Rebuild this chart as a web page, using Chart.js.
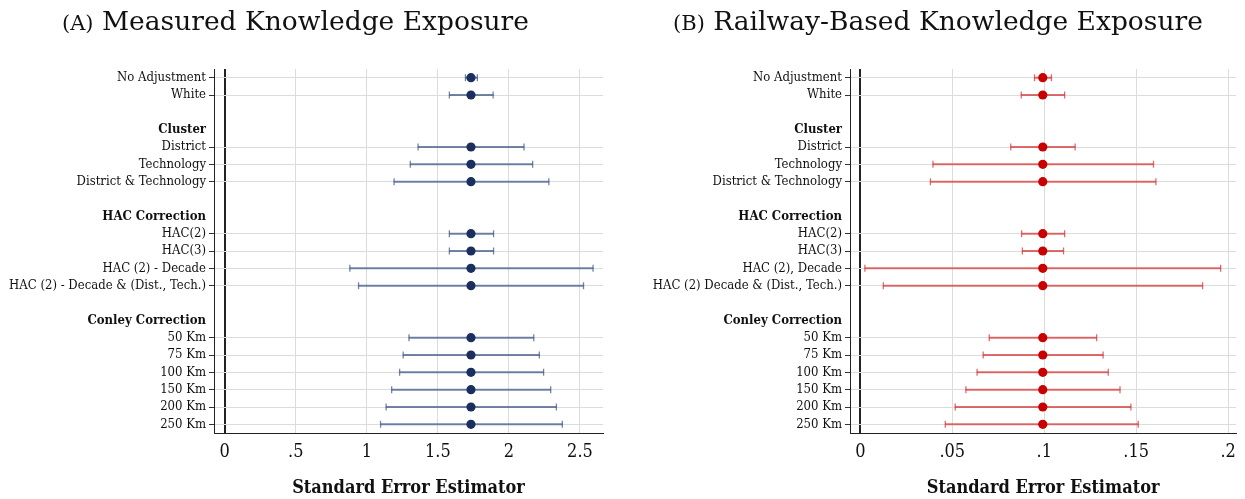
<!DOCTYPE html>
<html>
<head>
<meta charset="utf-8">
<script src="https://cdn.jsdelivr.net/npm/chart.js@4.4.1/dist/chart.umd.min.js"></script>
<style>
  body { margin: 0; background: #fff; width: 1245px; height: 499px; position: relative; overflow: hidden; }
  canvas { position: absolute; top: 0; }
  .title { position: absolute; top: 6px; font-family: "DejaVu Serif", serif; font-size: 26.5px; line-height: 30px; color: #111; white-space: nowrap; }
  .title span { font-size: 21px; }
</style>
</head>
<body>
<canvas id="chartA" width="622" height="499" style="left:0"></canvas>
<canvas id="chartB" width="623" height="499" style="left:622px"></canvas>
<div class="title" style="left:62px"><span>(A)</span> Measured Knowledge Exposure</div>
<div class="title" style="left:673px"><span>(B)</span> Railway-Based Knowledge Exposure</div>
<script>
const FONT = '"DejaVu Serif Condensed", "DejaVu Serif", serif';

// rows top to bottom ("" = spacer row)
const rowsA = ["No Adjustment", "White", "", "Cluster", "District", "Technology", "District & Technology",
  "", "HAC Correction", "HAC(2)", "HAC(3)", "HAC (2) - Decade", "HAC (2) - Decade & (Dist., Tech.)",
  "", "Conley Correction", "50 Km", "75 Km", "100 Km", "150 Km", "200 Km", "250 Km"];
const rowsB = ["No Adjustment", "White", "", "Cluster", "District", "Technology", "District & Technology",
  "", "HAC Correction", "HAC(2)", "HAC(3)", "HAC (2), Decade", "HAC (2) Decade & (Dist., Tech.)",
  "", "Conley Correction", "50 Km", "75 Km", "100 Km", "150 Km", "200 Km", "250 Km"];
const headers = ["Cluster", "HAC Correction", "Conley Correction"];

// (A) measured knowledge exposure
const estA = [1.733, 1.733, null, null, 1.733, 1.733, 1.733, null, null, 1.733, 1.733, 1.733, 1.733,
  null, null, 1.733, 1.733, 1.733, 1.733, 1.733, 1.733];
const loA = [1.694, 1.581, null, null, 1.361, 1.306, 1.192, null, null, 1.581, 1.581, 0.881, 0.942,
  null, null, 1.297, 1.256, 1.231, 1.175, 1.136, 1.097];
const hiA = [1.778, 1.889, null, null, 2.106, 2.167, 2.281, null, null, 1.892, 1.892, 2.592, 2.525,
  null, null, 2.175, 2.214, 2.244, 2.294, 2.334, 2.376];

// (B) railway-based knowledge exposure
const estB = [0.0992, 0.0992, null, null, 0.0992, 0.0992, 0.0992, null, null, 0.0992, 0.0992, 0.0992, 0.0992,
  null, null, 0.0992, 0.0992, 0.0992, 0.0992, 0.0992, 0.0992];
const loB = [0.0947, 0.0875, null, null, 0.0818, 0.0395, 0.0381, null, null, 0.0877, 0.0881, 0.0025, 0.0125,
  null, null, 0.0701, 0.0668, 0.0635, 0.0574, 0.0516, 0.0462];
const hiB = [0.1039, 0.1111, null, null, 0.1168, 0.1594, 0.1607, null, null, 0.1111, 0.1105, 0.1959, 0.1861,
  null, null, 0.1285, 0.132, 0.1348, 0.1412, 0.1471, 0.1511];

const xTicksA = [0, 0.5, 1, 1.5, 2, 2.5];
const xTicksB = [0, 0.05, 0.1, 0.15, 0.2];

function makeChart(id, rows, est, lo, hi, pointColor, barColor, xMin, xMax, xTicks, yWidth, padRight) {
  const hasRow = (i) => est[i] != null;
  return new Chart(document.getElementById(id), {
    type: "bar",
    data: {
      labels: rows,
      datasets: [
        {
          // whisker
          data: rows.map((_, i) => (hasRow(i) ? [lo[i], hi[i]] : null)),
          backgroundColor: barColor,
          barThickness: 1.4,
          order: 3,
        },
        {
          type: "line", showLine: false, data: lo,
          pointStyle: "line", rotation: 90, pointRadius: 3.5, pointHoverRadius: 3.5,
          borderColor: barColor, borderWidth: 1.3, order: 2,
        },
        {
          type: "line", showLine: false, data: hi,
          pointStyle: "line", rotation: 90, pointRadius: 3.5, pointHoverRadius: 3.5,
          borderColor: barColor, borderWidth: 1.3, order: 2,
        },
        {
          type: "line", showLine: false, data: est,
          pointRadius: 4.6, pointHoverRadius: 4.6,
          pointBackgroundColor: pointColor, borderColor: pointColor, borderWidth: 0, order: 1,
        },
      ],
    },
    options: {
      indexAxis: "y",
      responsive: false,
      animation: false,
      layout: { padding: { top: 69, right: padRight, left: 0, bottom: 0 } },
      plugins: { legend: { display: false }, tooltip: { enabled: false } },
      scales: {
        x: {
          type: "linear",
          min: xMin,
          max: xMax,
          afterBuildTicks: (scale) => { scale.ticks = xTicks.map((v) => ({ value: v })); },
          afterFit: (scale) => { scale.height = 66; },
          border: { display: true, color: "#222", width: 1 },
          grid: {
            drawTicks: false,
            color: (ctx) => (ctx.tick && ctx.tick.value === 0 ? "#222" : "#dcdcdc"),
            lineWidth: (ctx) => (ctx.tick && ctx.tick.value === 0 ? 2 : 1),
          },
          ticks: {
            padding: 9,
            color: "#111",
            font: { family: FONT, size: 18 },
            callback: (v) => String(v).replace(/^0\./, "."),
          },
          title: {
            display: true,
            text: "Standard Error Estimator",
            color: "#111",
            font: { family: FONT, size: 18, weight: "bold" },
            padding: { top: 0, bottom: 0 },
          },
        },
        y: {
          type: "category",
          offset: true,
          afterFit: (scale) => { scale.width = yWidth; },
          border: { display: true, color: "#222", width: 1 },
          grid: {
            offset: false,
            tickLength: 5,
            color: (ctx) => (ctx.tick && hasRow(ctx.index) ? "#dcdcdc" : "rgba(0,0,0,0)"),
            tickColor: (ctx) => (ctx.tick && hasRow(ctx.index) ? "#333" : "rgba(0,0,0,0)"),
          },
          ticks: {
            autoSkip: false,
            padding: 3,
            color: "#111",
            font: (ctx) => ({
              family: FONT,
              size: 13,
              weight: ctx.tick && headers.includes(ctx.tick.label) ? "bold" : "normal",
            }),
          },
        },
      },
    },
  });
}

makeChart("chartA", rowsA, estA, loA, hiA, "#1b2f5e", "rgba(70,92,140,0.75)",
  -0.075, 2.662, xTicksA, 214, 19);
makeChart("chartB", rowsB, estB, loB, hiB, "#c80000", "rgba(214,60,60,0.75)",
  -0.0056, 0.2044, xTicksB, 228, 0);
</script>
</body>
</html>
